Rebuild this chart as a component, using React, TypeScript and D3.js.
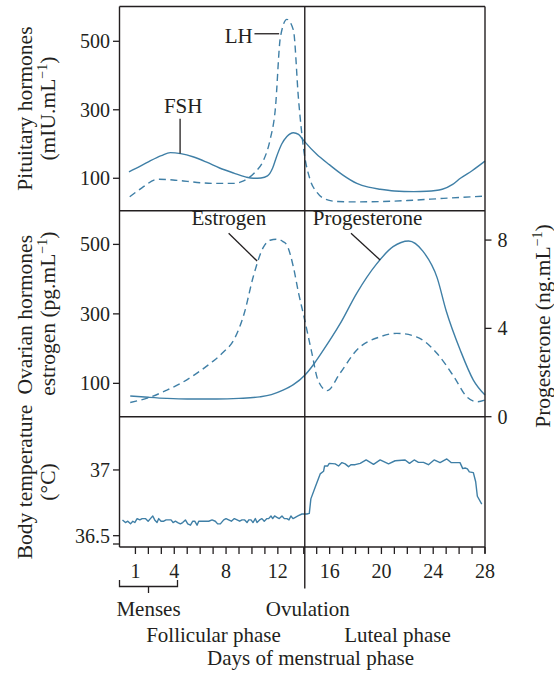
import React from 'react';
import * as d3 from 'd3';

// ---------- data ----------
const fshDays = [0.5, 1, 2, 3, 3.7, 4.5, 5.5, 6.5, 7.5, 8.6, 9.5, 10.1, 10.7, 11.2, 11.6, 11.9, 12.3, 12.7, 13.2, 13.6, 14, 15, 16, 17, 18.1, 19, 19.9, 21, 22.5, 23.5, 24.7, 25.5, 26.1, 27, 28];
const fshValues = [119, 128, 148, 166, 175, 172, 162, 147, 130, 115, 104, 100, 101, 107, 130, 163, 200, 222, 233, 228, 210, 170, 139, 110, 85, 74, 68, 63, 61, 62, 68, 82, 100, 122, 150];

const lhDays = [0.56, 1.5, 2.7, 3.9, 5, 6, 7.3, 8.6, 9.2, 9.7, 10.3, 10.9, 11.4, 11.8, 12.2, 12.7, 13.2, 13.6, 14.0, 14.5, 15, 15.5, 16.6, 18, 19.9, 22, 23.8, 26, 28];
const lhValues = [46, 72, 97, 95, 91, 87, 85, 85, 90, 100, 120, 153, 212, 300, 513, 564, 533, 329, 183, 95, 60, 42, 32, 31, 32, 35, 39, 44, 48];

const estrogenDays = [0.6, 2.2, 3.4, 4.5, 5.7, 6.8, 7.8, 8.6, 9.4, 10.1, 10.9, 11.4, 11.9, 12.4, 12.7, 13.2, 13.6, 14.0, 14.6, 15.1, 15.8, 16.8, 18.1, 19.9, 21.2, 22.7, 24.3, 25.6, 26.6, 27.4, 28];
const estrogenValues = [45, 61, 80, 100, 128, 158, 190, 225, 301, 407, 493, 512, 515, 508, 498, 435, 360, 295, 192, 109, 79, 129, 196, 234, 244, 234, 186, 119, 61, 47, 52];

const progesteroneDays = [0.6, 2, 3.4, 5, 7.3, 9, 10.6, 11.5, 12.4, 13.2, 14.1, 14.8, 15.5, 16.8, 18.1, 19.6, 20.9, 22.1, 23.2, 24.3, 25.0, 26.1, 27.1, 28];
const progesteroneValues = [0.94, 0.88, 0.83, 0.8, 0.8, 0.83, 0.9, 1.0, 1.2, 1.45, 1.89, 2.4, 3.0, 4.2, 5.6, 6.9, 7.7, 7.96, 7.5, 6.3, 4.8, 3.0, 1.66, 0.98];

const temperaturePoints: [number, number][] = [
  [0.0, 36.62], [0.23, 36.60], [0.41, 36.61], [0.62, 36.59], [0.80, 36.61], [0.95, 36.60], [1.13, 36.63], [1.34, 36.62],
  [1.52, 36.63], [1.77, 36.63], [1.98, 36.61], [2.16, 36.63], [2.34, 36.65], [2.49, 36.62], [2.67, 36.60], [2.80, 36.63],
  [2.98, 36.61], [3.19, 36.61], [3.37, 36.62], [3.57, 36.62], [3.75, 36.62], [3.91, 36.60], [4.09, 36.61], [4.27, 36.60],
  [4.47, 36.59], [4.65, 36.60], [4.86, 36.62], [5.04, 36.59], [5.25, 36.58], [5.43, 36.61], [5.58, 36.61], [5.76, 36.58],
  [5.89, 36.61], [6.15, 36.61], [6.40, 36.61], [6.66, 36.61], [6.92, 36.62], [7.17, 36.61], [7.35, 36.59], [7.56, 36.59],
  [7.82, 36.62], [8.00, 36.63], [8.20, 36.62], [8.41, 36.61], [8.64, 36.63], [8.85, 36.62], [9.05, 36.61], [9.23, 36.62],
  [9.44, 36.62], [9.62, 36.60], [9.75, 36.62], [9.93, 36.62], [10.08, 36.60], [10.26, 36.63], [10.39, 36.60], [10.59, 36.62],
  [10.77, 36.63], [10.95, 36.61], [11.16, 36.63], [11.29, 36.63], [11.47, 36.65], [11.60, 36.63], [11.75, 36.65], [11.93, 36.64],
  [12.11, 36.63], [12.32, 36.65], [12.50, 36.63], [12.70, 36.63], [12.86, 36.62], [13.01, 36.65], [13.17, 36.63], [13.35, 36.64],
  [13.55, 36.65], [13.86, 36.665], [14.25, 36.665], [14.43, 36.67], [14.55, 36.78], [14.89, 36.87], [15.27, 36.97], [15.53, 36.99],
  [15.61, 37.03], [15.84, 37.03], [15.97, 37.05], [16.43, 37.046], [16.69, 37.03], [16.95, 37.056], [17.20, 37.046], [17.46, 37.025],
  [17.64, 37.04], [17.97, 37.04], [18.36, 37.05], [18.82, 37.076], [19.39, 37.043], [19.90, 37.076], [20.55, 37.046], [21.06, 37.07],
  [21.83, 37.076], [22.17, 37.05], [22.53, 37.076], [22.86, 37.058], [23.25, 37.058], [23.63, 37.04], [24.07, 37.076], [24.53, 37.056],
  [25.05, 37.084], [25.38, 37.056], [26.07, 37.056], [26.28, 37.01], [26.46, 37.015], [26.64, 37.008], [26.79, 36.985], [27.10, 36.98],
  [27.28, 36.91], [27.41, 36.80], [27.75, 36.74],
];

const dayTickValues = [1, 2, 3, 4, 5, 6, 7, 8, 9, 10, 11, 12, 13, 14, 15, 16, 17, 18, 19, 20, 21, 22, 23, 24, 25, 26, 27, 28];
const dayTickLabels = [1, 4, 8, 12, 16, 20, 24, 28];
const pituitaryTicks = [100, 300, 500];
const ovarianTicks = [100, 300, 500];
const progesteroneTicks = [0, 4, 8];
const temperatureTicks = [36.5, 37];
const temperatureTickLabels = ['36.5', '37'];

const ovulationDay = 14.08;
const menses = { start: -0.23, end: 4.25 };

// ---------- component ----------
const FONT = '"Liberation Serif", "Times New Roman", serif';
const INK = '#231f20';
const CURVE = '#3f7fa6';

export default function App() {
  const W = 554, H = 674;
  const left = 119.5, right = 485;
  const top = 6.5, div1 = 210.7, div2 = 416.7, bottom = 547;

  const x = d3.scaleLinear().domain([-0.23, 28]).range([left, right]);
  const yTop = d3.scaleLinear().domain([5.3, 601.6]).range([div1, top]);
  const yMid = d3.scaleLinear().domain([4, 597]).range([div2, div1]);
  const yProg = d3.scaleLinear().domain([0, 9.33]).range([div2, div1]);
  const yTemp = d3.scaleLinear().domain([36.414, 37.405]).range([bottom, div2]);

  const smooth = (ys: d3.ScaleLinear<number, number>) =>
    d3.line<[number, number]>().x(d => x(d[0])).y(d => ys(d[1])).curve(d3.curveMonotoneX);

  const zip = (a: number[], b: number[]) => a.map((v, i) => [v, b[i]] as [number, number]);

  const fshPath = smooth(yTop)(zip(fshDays, fshValues)) || '';
  const lhPath = smooth(yTop)(zip(lhDays, lhValues)) || '';
  const estPath = smooth(yMid)(zip(estrogenDays, estrogenValues)) || '';
  const progPath = smooth(yProg)(zip(progesteroneDays, progesteroneValues)) || '';
  const tempPath = d3.line<[number, number]>().x(d => x(d[0])).y(d => yTemp(d[1]))(temperaturePoints) || '';

  const xOv = x(ovulationDay);
  const tickFs = 20;
  const labelFs = 21;
  const axisFs = 21.5;

  const leftTicks = (ticks: number[], ys: d3.ScaleLinear<number, number>, labels?: string[]) =>
    ticks.map((t, i) => (
      <g key={'lt' + t}>
        <line x1={left - 6.5} x2={left} y1={ys(t)} y2={ys(t)} stroke={INK} strokeWidth={1.3} />
        <text x={left - 9.5} y={ys(t)} dy="0.35em" textAnchor="end" fontSize={tickFs}>{labels ? labels[i] : t}</text>
      </g>
    ));

  const sup = (s: string) => (
    <>
      <tspan dy={-8} fontSize={14}>{s}</tspan>
      <tspan dy={8}>)</tspan>
    </>
  );

  return (
    <svg width={W} height={H} viewBox={`0 0 ${W} ${H}`}
      style={{ position: 'absolute', left: 0, top: 0, background: '#fff' }}
      fontFamily={FONT} fill={INK}>
      <rect x={0} y={0} width={W} height={H} fill="#fff" />

      {/* curves */}
      <path d={fshPath} fill="none" stroke={CURVE} strokeWidth={1.4} />
      <path d={lhPath} fill="none" stroke={CURVE} strokeWidth={1.4} strokeDasharray="7,4.5" />
      <path d={estPath} fill="none" stroke={CURVE} strokeWidth={1.4} strokeDasharray="7,4.5" />
      <path d={progPath} fill="none" stroke={CURVE} strokeWidth={1.4} />
      <path d={tempPath} fill="none" stroke={CURVE} strokeWidth={1.4} strokeLinejoin="round" />

      {/* frame */}
      <g stroke={INK} strokeWidth={1.4} fill="none">
        <line x1={left} x2={right} y1={top} y2={top} />
        <line x1={left} x2={right} y1={div1} y2={div1} />
        <line x1={left} x2={right} y1={div2} y2={div2} />
        <line x1={left} x2={right} y1={bottom} y2={bottom} />
        <line x1={left} x2={left} y1={top} y2={bottom} />
        <line x1={right} x2={right} y1={top} y2={bottom + 6.5} />
        <line x1={xOv} x2={xOv} y1={top} y2={588.5} />
      </g>

      {/* left axes */}
      {leftTicks(pituitaryTicks, yTop)}
      {leftTicks(ovarianTicks, yMid)}
      {leftTicks(temperatureTicks, yTemp, temperatureTickLabels)}
      <line x1={left - 6.5} x2={left} y1={bottom - 3} y2={bottom - 3} stroke={INK} strokeWidth={1.3} />

      {/* right axis */}
      {progesteroneTicks.map(t => (
        <g key={'rt' + t}>
          <line x1={right} x2={right + 6.5} y1={yProg(t)} y2={yProg(t)} stroke={INK} strokeWidth={1.3} />
          <text x={right + 12.5} y={yProg(t)} dy="0.35em" textAnchor="start" fontSize={tickFs}>{t}</text>
        </g>
      ))}

      {/* bottom axis */}
      {dayTickValues.map(d => (
        <line key={'bt' + d} x1={x(d)} x2={x(d)} y1={bottom} y2={bottom + 7} stroke={INK} strokeWidth={1.3} />
      ))}
      {dayTickLabels.map(d => (
        <text key={'bl' + d} x={x(d)} y={577.7} textAnchor="middle" fontSize={tickFs}>{d}</text>
      ))}

      {/* menses bracket */}
      <g stroke={INK} strokeWidth={1.3} fill="none">
        <polyline points={`${x(menses.start)},580 ${x(menses.start)},586.5 ${x(menses.end)},586.5 ${x(menses.end)},580`} />
        <line x1={x((menses.start + menses.end) / 2)} x2={x((menses.start + menses.end) / 2)} y1={586.5} y2={593} />
      </g>

      {/* phase labels */}
      <g fontSize={labelFs} textAnchor="middle">
        <text x={x((menses.start + menses.end) / 2)} y={615.7}>Menses</text>
        <text x={xOv + 3} y={615.7}>Ovulation</text>
        <text x={213.5} y={641.7}>Follicular phase</text>
        <text x={397.5} y={641.7}>Luteal phase</text>
        <text x={310.5} y={665}>Days of menstrual phase</text>
      </g>

      {/* curve annotations */}
      <g fontSize={labelFs}>
        <text x={x(3.2)} y={yTop(292)}>FSH</text>
        <line x1={x(4.45)} x2={x(4.45)} y1={yTop(274)} y2={yTop(172)} stroke={INK} strokeWidth={1.3} />
        <text x={x(7.9)} y={yTop(496)}>LH</text>
        <line x1={x(10.2)} x2={x(12.1)} y1={yTop(522)} y2={yTop(522)} stroke={INK} strokeWidth={1.3} />
        <text x={x(5.33)} y={yMid(556)}>Estrogen</text>
        <line x1={x(8.2)} x2={x(10.4)} y1={yMid(532)} y2={yMid(452)} stroke={INK} strokeWidth={1.3} />
        <text x={x(14.7)} y={yMid(556)}>Progesterone</text>
        <line x1={x(17.65)} x2={x(19.9)} y1={yMid(532)} y2={yMid(455)} stroke={INK} strokeWidth={1.3} />
      </g>

      {/* rotated axis titles */}
      <g fontSize={axisFs} textAnchor="middle">
        <text transform={`translate(32,${(top + div1) / 2}) rotate(-90)`}>Pituitary hormones</text>
        <text transform={`translate(55,${(top + div1) / 2}) rotate(-90)`}>(mIU.mL{sup('−1')}</text>
        <text transform={`translate(32,${(div1 + div2) / 2 + 1}) rotate(-90)`}>Ovarian hormones</text>
        <text transform={`translate(55,${(div1 + div2) / 2}) rotate(-90)`}>estrogen (pg.mL{sup('−1')}</text>
        <text transform={`translate(32,482) rotate(-90)`}>Body temperature</text>
        <text transform={`translate(55,482) rotate(-90)`}>(°C)</text>
        <text transform={`translate(550,326) rotate(-90)`}>Progesterone (ng.mL{sup('−1')}</text>
      </g>
    </svg>
  );
}
